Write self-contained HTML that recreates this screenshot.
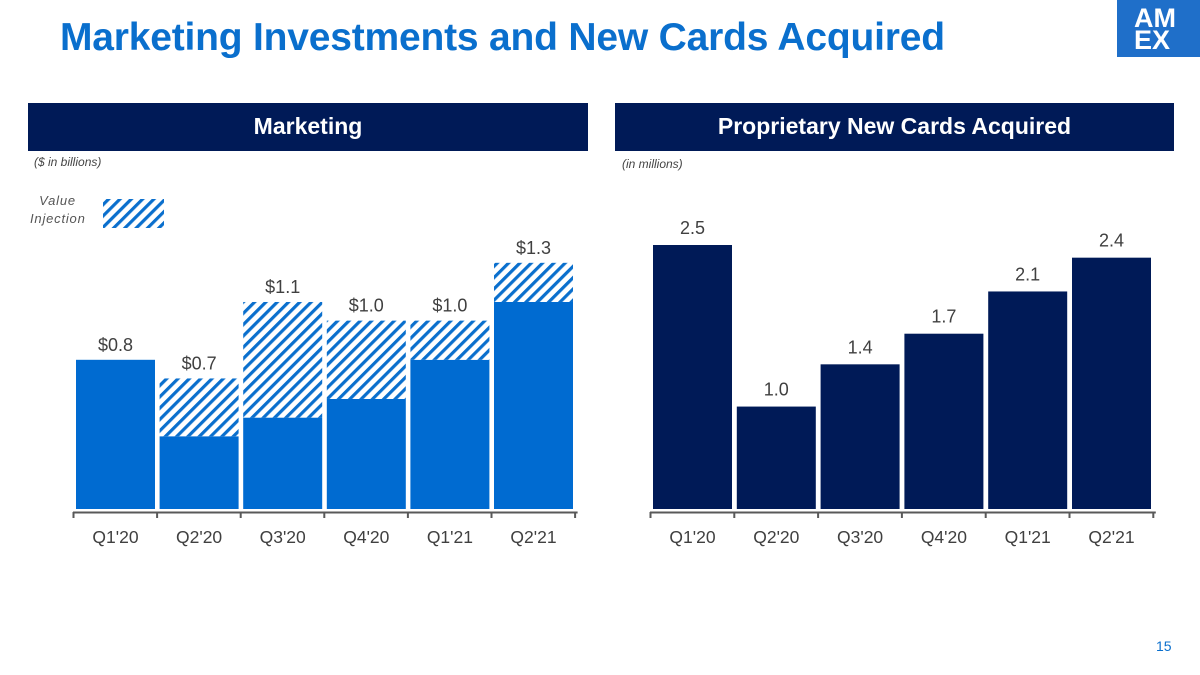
<!DOCTYPE html>
<html><head><meta charset="utf-8"><style>
body{margin:0;width:1200px;height:675px;background:#fff;font-family:"Liberation Sans",sans-serif;overflow:hidden;position:relative}
.t{position:absolute}
</style></head><body>
<div class="t" style="left:60px;top:16px;font-size:39px;font-weight:bold;color:#0a6fcd;letter-spacing:-0.2px;white-space:nowrap">Marketing Investments and New Cards Acquired</div>
<div class="t" style="left:1117px;top:0;width:83px;height:57px;background:#1f6fc9;color:#fff;font-weight:bold;font-size:27px;line-height:22px;padding:7px 0 0 17px;box-sizing:border-box;overflow:hidden;white-space:nowrap">AM<br>EX</div>
<div class="t" style="left:28px;top:103px;width:560px;height:48px;background:#001a57;color:#fff;font-size:23px;font-weight:bold;text-align:center;line-height:47px">Marketing</div>
<div class="t" style="left:615px;top:103px;width:559px;height:48px;background:#001a57;color:#fff;font-size:23px;font-weight:bold;text-align:center;line-height:47px">Proprietary New Cards Acquired</div>
<div class="t" style="left:34px;top:155px;font-size:12px;font-style:italic;color:#444">($ in billions)</div>
<div class="t" style="left:622px;top:157px;font-size:12px;font-style:italic;color:#444">(in millions)</div>
<div class="t" style="left:30px;top:192px;width:55px;font-size:13px;font-style:italic;color:#555;text-align:center;line-height:18px;letter-spacing:0.8px">Value Injection</div>
<div class="t" style="left:1156px;top:638px;font-size:14px;color:#0a6fcd">15</div>
<svg id="c" width="1200" height="675" style="position:absolute;left:0;top:0">
<defs><pattern id="h" patternUnits="userSpaceOnUse" width="8" height="8" patternTransform="rotate(45)"><rect width="8" height="8" fill="#fff"/><rect width="3.2" height="8" fill="#0a6fcd"/></pattern></defs>
<rect x="103" y="199" width="61" height="29" fill="url(#h)"/>
</svg>
<script>
const categories=["Q1'20","Q2'20","Q3'20","Q4'20","Q1'21","Q2'21"];
const marketingBase=[0.80,0.39,0.49,0.59,0.80,1.11];
const marketingInjection=[0,0.31,0.62,0.42,0.21,0.21];
const marketingLabels=["$0.8","$0.7","$1.1","$1.0","$1.0","$1.3"];
const cardsValues=[2.5,0.97,1.37,1.66,2.06,2.38];
const cardsLabels=["2.5","1.0","1.4","1.7","2.1","2.4"];
const svg=document.getElementById('c');
const NS='http://www.w3.org/2000/svg';
function mk(tag,attrs,name){const e=document.createElementNS(NS,tag);for(const k in attrs)e.setAttribute(k,attrs[k]);


svg.appendChild(e);return e;}
const base=509;
function drawChart(x0,step,scale){
 const xs=i=>x0+i*step;
 const y=v=>base-v*scale;
 return {xs,y};
}
const L=drawChart(76,83.6,186.5);
const R=drawChart(653,83.8,105.6);
function axis(startX,step,n,prefix){
 mk('line',{x1:startX-3,x2:startX-3+step*n+3,y1:512.5,y2:512.5,stroke:'#595959','stroke-width':2},prefix+'-x-axis');
 for(let i=0;i<=n;i++){mk('line',{x1:startX-2.5+i*step,x2:startX-2.5+i*step,y1:512,y2:518,stroke:'#595959','stroke-width':2},prefix+'-x-tick');}
}
categories.forEach((c,i)=>{
 const x=L.xs(i);
 const b=marketingBase[i],inj=marketingInjection[i];
 mk('rect',{x:x,y:L.y(b),width:79,height:b*186.5,fill:'#006bd1'},'marketing-bar-'+i);
 if(inj>0) mk('rect',{x:x,y:L.y(b+inj),width:79,height:inj*186.5,fill:'url(#h)'},'injection-bar-'+i);
 const t=mk('text',{x:x+39.5,y:L.y(b+inj)-9,'text-anchor':'middle','font-size':18,fill:'#404040'},'marketing-value-label-'+i);t.textContent=marketingLabels[i];
 const l=mk('text',{x:x+39.5,y:543,'text-anchor':'middle','font-size':17.5,fill:'#404040'},'marketing-category-label-'+i);l.textContent=c;
 const xr=R.xs(i);
 mk('rect',{x:xr,y:R.y(cardsValues[i]),width:79,height:cardsValues[i]*105.6,fill:'#001a57'},'cards-bar-'+i);
 const t2=mk('text',{x:xr+39.5,y:R.y(cardsValues[i])-11,'text-anchor':'middle','font-size':18,fill:'#404040'},'cards-value-label-'+i);t2.textContent=cardsLabels[i];
 const l2=mk('text',{x:xr+39.5,y:543,'text-anchor':'middle','font-size':17.5,fill:'#404040'},'cards-category-label-'+i);l2.textContent=c;
});
axis(76,83.6,6,'marketing');
axis(653,83.8,6,'cards');
</script>
</body></html>
